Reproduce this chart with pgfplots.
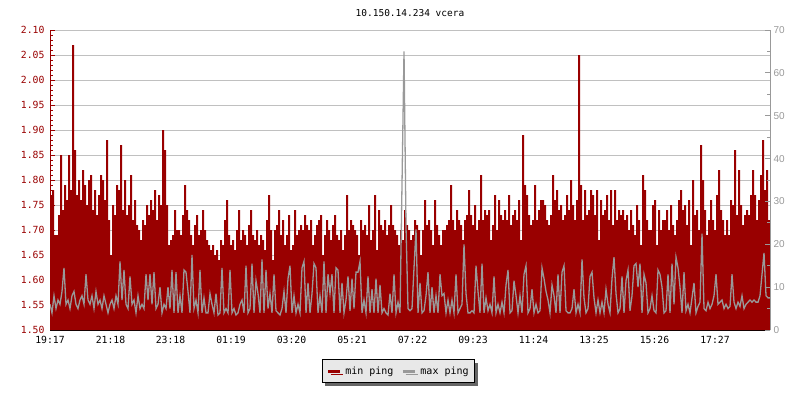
\documentclass[border=0pt]{standalone}
\usepackage{fontspec}
\setmainfont{DejaVu Sans Mono}
\newfontfamily\rfont{Liberation Sans}
\usepackage{pgfplots}
\pgfplotsset{compat=1.18}
\usetikzlibrary{shadows}
\definecolor{minred}{HTML}{990000}
\definecolor{maxgray}{HTML}{999999}
\definecolor{gridgray}{HTML}{C0C0C0}
\definecolor{legbg}{HTML}{E8E8E8}
\begin{document}
\begin{tikzpicture}[x=1bp,y=1bp]
\path[use as bounding box] (0,0) rectangle (800,400);
\node[font=\fontsize{9.5bp}{11bp}\selectfont] at (410,387) {10.150.14.234 vcera};
\begin{axis}[
  at={(50bp,70bp)}, anchor=south west,
  width=720bp, height=300bp, scale only axis,
  xmin=0, xmax=1440, ymin=1.5, ymax=2.1,
  axis x line*=bottom, axis y line*=left,
  x axis line style={black, line width=1.2bp},
  y axis line style={minred, line width=1bp},
  ytick={1.5,1.55,1.6,1.65,1.7,1.75,1.8,1.85,1.9,1.95,2.0,2.05,2.1},
  minor y tick num=4,
  tick align=inside,
  major tick length=5bp, minor tick length=3bp,
  ytick style={minred, line width=0.8bp},
  xtick style={black, line width=1bp},
  xtick={0,121,241,362,483,604,725,846,967,1088,1209,1330},
  xticklabels={19:17,21:18,23:18,01:19,03:20,05:21,07:22,09:23,11:24,13:25,15:26,17:27},
  ymajorgrids, grid style={gridgray, line width=0.8bp},
  tick label style={font=\fontsize{9.8bp}{11bp}\selectfont},
  xticklabel style={yshift=-2.5bp},
  yticklabel style={minred, xshift=-2bp},
  /pgf/number format/assume math mode=true,
  /pgf/number format/.cd, fixed, fixed zerofill, precision=2,
]
\addplot[const plot, fill=minred, draw=none] table[row sep=\\, x expr=\coordindex*4, y=v] {
v\\
1.77\\ 1.78\\ 1.69\\ 1.69\\ 1.73\\ 1.85\\ 1.74\\ 1.79\\ 1.76\\ 1.85\\
1.78\\ 2.07\\ 1.86\\ 1.77\\ 1.80\\ 1.76\\ 1.82\\ 1.79\\ 1.75\\ 1.80\\
1.81\\ 1.74\\ 1.78\\ 1.73\\ 1.77\\ 1.81\\ 1.80\\ 1.76\\ 1.88\\ 1.72\\
1.65\\ 1.75\\ 1.73\\ 1.79\\ 1.78\\ 1.87\\ 1.74\\ 1.80\\ 1.73\\ 1.75\\
1.81\\ 1.72\\ 1.76\\ 1.71\\ 1.70\\ 1.68\\ 1.72\\ 1.71\\ 1.75\\ 1.73\\
1.76\\ 1.74\\ 1.78\\ 1.72\\ 1.77\\ 1.75\\ 1.90\\ 1.86\\ 1.75\\ 1.67\\
1.68\\ 1.69\\ 1.74\\ 1.70\\ 1.70\\ 1.69\\ 1.73\\ 1.79\\ 1.74\\ 1.72\\
1.69\\ 1.67\\ 1.71\\ 1.73\\ 1.69\\ 1.70\\ 1.74\\ 1.70\\ 1.68\\ 1.67\\
1.66\\ 1.67\\ 1.65\\ 1.66\\ 1.64\\ 1.68\\ 1.67\\ 1.72\\ 1.76\\ 1.69\\
1.67\\ 1.68\\ 1.66\\ 1.70\\ 1.74\\ 1.68\\ 1.70\\ 1.69\\ 1.67\\ 1.71\\
1.74\\ 1.69\\ 1.68\\ 1.70\\ 1.67\\ 1.69\\ 1.68\\ 1.66\\ 1.72\\ 1.77\\
1.70\\ 1.64\\ 1.70\\ 1.71\\ 1.74\\ 1.69\\ 1.72\\ 1.67\\ 1.69\\ 1.73\\
1.66\\ 1.67\\ 1.74\\ 1.69\\ 1.70\\ 1.71\\ 1.70\\ 1.73\\ 1.71\\ 1.70\\
1.72\\ 1.67\\ 1.69\\ 1.71\\ 1.72\\ 1.73\\ 1.65\\ 1.69\\ 1.72\\ 1.70\\
1.68\\ 1.71\\ 1.73\\ 1.69\\ 1.68\\ 1.70\\ 1.66\\ 1.69\\ 1.77\\ 1.70\\
1.72\\ 1.71\\ 1.70\\ 1.69\\ 1.65\\ 1.72\\ 1.70\\ 1.71\\ 1.69\\ 1.75\\
1.68\\ 1.70\\ 1.77\\ 1.66\\ 1.74\\ 1.71\\ 1.70\\ 1.72\\ 1.69\\ 1.71\\
1.75\\ 1.71\\ 1.70\\ 1.69\\ 1.67\\ 1.70\\ 1.68\\ 1.74\\ 1.71\\ 1.70\\
1.68\\ 1.69\\ 1.72\\ 1.71\\ 1.70\\ 1.65\\ 1.70\\ 1.76\\ 1.71\\ 1.72\\
1.70\\ 1.67\\ 1.76\\ 1.71\\ 1.69\\ 1.67\\ 1.70\\ 1.70\\ 1.71\\ 1.72\\
1.79\\ 1.72\\ 1.70\\ 1.74\\ 1.72\\ 1.71\\ 1.68\\ 1.72\\ 1.73\\ 1.78\\
1.73\\ 1.71\\ 1.75\\ 1.70\\ 1.72\\ 1.81\\ 1.72\\ 1.74\\ 1.73\\ 1.74\\
1.68\\ 1.71\\ 1.77\\ 1.70\\ 1.76\\ 1.73\\ 1.72\\ 1.74\\ 1.72\\ 1.77\\
1.71\\ 1.73\\ 1.74\\ 1.72\\ 1.76\\ 1.68\\ 1.89\\ 1.79\\ 1.77\\ 1.73\\
1.71\\ 1.72\\ 1.79\\ 1.72\\ 1.74\\ 1.76\\ 1.76\\ 1.75\\ 1.72\\ 1.71\\
1.73\\ 1.81\\ 1.76\\ 1.78\\ 1.74\\ 1.75\\ 1.72\\ 1.73\\ 1.77\\ 1.74\\
1.80\\ 1.75\\ 1.72\\ 1.76\\ 2.05\\ 1.79\\ 1.72\\ 1.78\\ 1.73\\ 1.74\\
1.78\\ 1.77\\ 1.73\\ 1.78\\ 1.68\\ 1.76\\ 1.73\\ 1.74\\ 1.77\\ 1.72\\
1.78\\ 1.71\\ 1.78\\ 1.72\\ 1.74\\ 1.73\\ 1.74\\ 1.72\\ 1.73\\ 1.70\\
1.74\\ 1.71\\ 1.69\\ 1.75\\ 1.72\\ 1.67\\ 1.81\\ 1.78\\ 1.72\\ 1.70\\
1.70\\ 1.75\\ 1.76\\ 1.67\\ 1.74\\ 1.70\\ 1.72\\ 1.72\\ 1.74\\ 1.70\\
1.75\\ 1.71\\ 1.69\\ 1.72\\ 1.76\\ 1.78\\ 1.74\\ 1.75\\ 1.71\\ 1.76\\
1.67\\ 1.80\\ 1.73\\ 1.74\\ 1.70\\ 1.87\\ 1.80\\ 1.74\\ 1.69\\ 1.72\\
1.76\\ 1.72\\ 1.70\\ 1.77\\ 1.82\\ 1.74\\ 1.72\\ 1.69\\ 1.72\\ 1.69\\
1.76\\ 1.75\\ 1.86\\ 1.73\\ 1.82\\ 1.75\\ 1.71\\ 1.73\\ 1.74\\ 1.73\\
1.77\\ 1.82\\ 1.77\\ 1.72\\ 1.76\\ 1.81\\ 1.88\\ 1.78\\ 1.82\\ 1.72\\
1.72\\
} \closedcycle;
\end{axis}
\begin{axis}[
  at={(50bp,70bp)}, anchor=south west,
  width=720bp, height=300bp, scale only axis,
  xmin=0, xmax=1440, ymin=0, ymax=70,
  axis x line=none, axis y line*=right,
  y axis line style={maxgray, line width=1bp},
  ytick={0,10,20,30,40,50,60,70},
  minor y tick num=1,
  tick align=inside,
  major tick length=5bp, minor tick length=3bp,
  ytick style={maxgray, line width=0.8bp},
  yticklabel style={maxgray, font=\rfont\fontsize{10bp}{12bp}\selectfont},
  /pgf/number format/assume math mode=true,
  legend style={at={(0.484,-0.097)}, anchor=north, draw=black, line width=0.8bp,
    fill=legbg, font=\fontsize{10bp}{12bp}\selectfont, legend columns=2,
    drop shadow={shadow xshift=3bp, shadow yshift=-3bp, fill=black!60, opacity=1},
    inner xsep=4bp, inner ysep=5bp,
    /tikz/every odd column/.append style={column sep=2bp},
    /tikz/every even column/.append style={column sep=6bp}},
  legend image code/.code={\draw[#1, line width=3bp] (0bp,0bp) -- (12bp,0bp);},
]
\addlegendimage{minred}
\addlegendentry{min ping}
\addlegendimage{maxgray}
\addlegendentry{max ping}
\addplot[sharp plot, maxgray, line width=1.3bp, forget plot] table[row sep=\\, x expr=\coordindex*4, y=v] {
v\\
6\\ 4\\ 8\\ 5\\ 7\\ 6\\ 9\\ 14.5\\ 6\\ 7\\
5\\ 8\\ 9\\ 6\\ 5\\ 7\\ 8\\ 6\\ 13\\ 7\\
6\\ 8\\ 5\\ 9\\ 6\\ 7\\ 5\\ 8\\ 6\\ 4\\
6\\ 7\\ 5\\ 8\\ 6\\ 16\\ 7\\ 14\\ 6\\ 5\\
12.5\\ 6\\ 7\\ 4\\ 8\\ 5\\ 6\\ 5\\ 13\\ 7\\
13\\ 6\\ 13.5\\ 5\\ 6\\ 10\\ 4\\ 6\\ 5\\ 10\\
5\\ 14\\ 4\\ 13.5\\ 4\\ 8\\ 4\\ 14\\ 13.5\\ 9\\
4\\ 17.5\\ 5\\ 7\\ 4\\ 14\\ 4\\ 7.5\\ 4\\ 4\\
8.5\\ 6\\ 4\\ 8.5\\ 3.5\\ 4\\ 14.5\\ 4\\ 5\\ 4\\
14\\ 4\\ 5\\ 3.5\\ 4\\ 6\\ 7\\ 4\\ 15\\ 4\\
5\\ 15.5\\ 4\\ 11.5\\ 8.5\\ 4\\ 16.5\\ 4\\ 14\\ 5\\
8.5\\ 4\\ 13\\ 4.5\\ 4\\ 3.5\\ 5\\ 9\\ 4\\ 12\\
15\\ 4\\ 8\\ 4\\ 6\\ 4\\ 14.5\\ 16\\ 4\\ 11\\
4\\ 8.5\\ 15.5\\ 14.5\\ 4\\ 8\\ 4\\ 16\\ 4\\ 13\\
8.5\\ 13\\ 4\\ 14.5\\ 14\\ 4\\ 11\\ 4\\ 7\\ 12.5\\
4.5\\ 12\\ 5\\ 13.5\\ 13.5\\ 16\\ 4\\ 7\\ 4\\ 12.5\\
4\\ 9.5\\ 4\\ 12\\ 4\\ 10.5\\ 4\\ 5\\ 4\\ 3.5\\
8.5\\ 4\\ 13\\ 4\\ 6.5\\ 4\\ 34\\ 65\\ 24\\ 5\\
4.5\\ 5\\ 14.5\\ 23.5\\ 4\\ 11\\ 4\\ 4.5\\ 8\\ 13.5\\
4\\ 10\\ 4\\ 8\\ 4\\ 13\\ 8\\ 8.5\\ 4\\ 7\\
4\\ 7\\ 4\\ 13\\ 4\\ 5\\ 6\\ 20\\ 8.5\\ 4\\
4\\ 4.5\\ 4\\ 15\\ 9\\ 4\\ 15.5\\ 4\\ 7.5\\ 4.5\\
6\\ 4\\ 12.5\\ 4\\ 6\\ 4\\ 6.5\\ 4\\ 10.5\\ 14\\
4\\ 4.5\\ 11.5\\ 8\\ 4\\ 8\\ 4\\ 13\\ 15\\ 4\\
5\\ 9.5\\ 4\\ 6\\ 4\\ 4.5\\ 14.5\\ 12\\ 9\\ 7\\
4\\ 10.5\\ 8\\ 4\\ 13\\ 4\\ 13.5\\ 15\\ 4.5\\ 4\\
4\\ 5\\ 9.5\\ 4\\ 6\\ 4\\ 16.5\\ 7.5\\ 4\\ 5\\
12.5\\ 13.5\\ 7.5\\ 4\\ 7\\ 4\\ 6.5\\ 4\\ 9.5\\ 6\\
4\\ 12\\ 17\\ 8.5\\ 4\\ 5\\ 12.5\\ 4\\ 11.5\\ 14\\
4.5\\ 8\\ 15\\ 15.5\\ 10\\ 15.5\\ 4\\ 13\\ 11\\ 4\\
5\\ 8\\ 4.5\\ 4\\ 14\\ 13\\ 10\\ 4\\ 4.5\\ 13\\
4\\ 15.5\\ 6\\ 17\\ 14.5\\ 10\\ 4\\ 13.5\\ 4.5\\ 6\\
4\\ 7.5\\ 11\\ 4\\ 5.5\\ 6.5\\ 22.5\\ 5\\ 4.5\\ 6.5\\
5\\ 6\\ 8\\ 13\\ 6\\ 6.5\\ 7\\ 5\\ 6\\ 5\\
5.5\\ 13\\ 6.5\\ 5\\ 6.5\\ 5.5\\ 8\\ 5\\ 6\\ 6.5\\
7\\ 6.5\\ 7\\ 6.5\\ 6.5\\ 8\\ 13\\ 18\\ 8\\ 7.5\\
7.5\\
};
\end{axis}
\end{tikzpicture}
\end{document}
